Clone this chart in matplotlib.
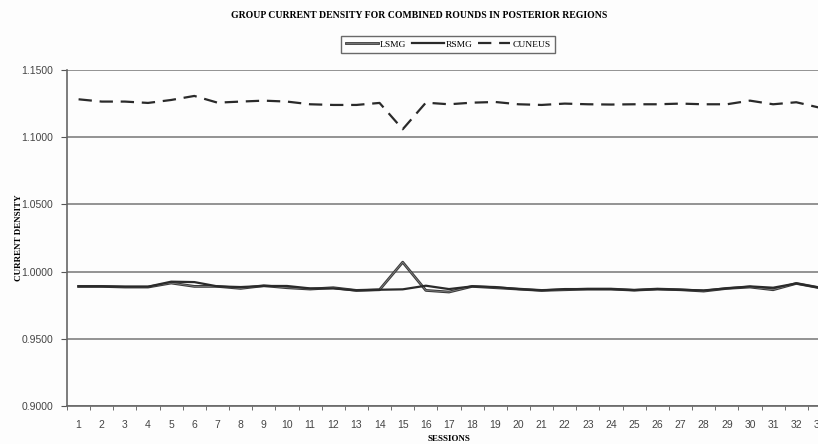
import numpy as np
import matplotlib
matplotlib.use("Agg")
import matplotlib.pyplot as plt
import matplotlib.patheffects as pe

sessions = list(range(1, 34))

lsmg = [0.9890, 0.9890, 0.9885, 0.9885, 0.9915, 0.9890, 0.9890, 0.9875, 0.9895, 0.9880,
        0.9870, 0.9880, 0.9860, 0.9865, 1.0070, 0.9860, 0.9848, 0.9890, 0.9880, 0.9870,
        0.9860, 0.9865, 0.9870, 0.9870, 0.9862, 0.9870, 0.9865, 0.9855, 0.9875, 0.9885,
        0.9865, 0.9912, 0.9880]
rsmg = [0.9890, 0.9890, 0.9888, 0.9888, 0.9925, 0.9922, 0.9890, 0.9885, 0.9893, 0.9893,
        0.9875, 0.9875, 0.9860, 0.9865, 0.9868, 0.9895, 0.9870, 0.9890, 0.9885, 0.9870,
        0.9860, 0.9870, 0.9870, 0.9870, 0.9862, 0.9870, 0.9865, 0.9860, 0.9875, 0.9890,
        0.9880, 0.9912, 0.9880]
cuneus = [1.1282, 1.1265, 1.1265, 1.1255, 1.1277, 1.1307, 1.1257, 1.1265, 1.1272, 1.1265,
          1.1245, 1.1240, 1.1240, 1.1255, 1.1059, 1.1257, 1.1245, 1.1257, 1.1262, 1.1245,
          1.1240, 1.1250, 1.1245, 1.1243, 1.1245, 1.1245, 1.1250, 1.1245, 1.1245, 1.1272,
          1.1245, 1.1260, 1.1220]

yticks = [0.90, 0.95, 1.00, 1.05, 1.10, 1.15]

fig = plt.figure(figsize=(8.18, 4.44), dpi=100)
fig.patch.set_facecolor('#fdfdfd')
ax = fig.add_axes([67/818, 38/444, 764/818, 336/444])
ax.set_facecolor('#fdfdfd')

hollow = [pe.Stroke(linewidth=2.0, foreground='#3a3a3a'), pe.Normal()]
ax.plot(sessions, lsmg, color='#8c8c8c', lw=0.5, path_effects=hollow, label='LSMG')
ax.plot(sessions, rsmg, color='#2a2a2a', lw=1.6, label='RSMG')
ax.plot(sessions, cuneus, color='#2a2a2a', lw=1.6, dashes=(6, 3.5), label='CUNEUS')

ax.set_xlim(0.5, 33.5)
ax.set_ylim(0.90, 1.15)
ax.set_yticks(yticks)
ax.set_yticklabels(['%.4f' % v for v in yticks], fontsize=7.5, family='Liberation Sans', color='#444')
ax.yaxis.grid(True, color='#8a8a8a', lw=1.3)
ax.set_axisbelow(True)

ax.set_xticks(sessions)
ax.set_xticklabels([str(s) for s in sessions], fontsize=7.5, family='Liberation Sans', color='#444')
ax.set_xticks(np.arange(0.5, 34, 1), minor=True)
ax.tick_params(axis='x', which='major', length=0, pad=10)
ax.tick_params(axis='x', which='minor', length=3, direction='out', color='#555')
ax.tick_params(axis='y', length=4, direction='out', color='#555', pad=6)

for s in ['top', 'right']:
    ax.spines[s].set_visible(False)
for s in ['left', 'bottom']:
    ax.spines[s].set_color('#666')
    ax.spines[s].set_linewidth(1.2)

ax.set_xlabel('SESSIONS', fontsize=6.5, family='Liberation Serif', fontweight='bold', labelpad=4)
ax.set_ylabel('CURRENT DENSITY', fontsize=6.5, family='Liberation Serif', fontweight='bold', labelpad=-1)

fig.text(419/818, 1 - 15/444, 'GROUP CURRENT DENSITY FOR COMBINED ROUNDS IN POSTERIOR REGIONS',
         ha='center', va='center', fontsize=7, family='Liberation Serif', fontweight='bold')

leg = fig.legend(loc='center', bbox_to_anchor=(448/818, 1 - 44.5/444), ncol=3, frameon=True,
                 fancybox=False, prop={'family': 'Liberation Serif', 'size': 6.8},
                 handlelength=3.4, handletextpad=0.2, columnspacing=0.6, borderpad=0.45)
leg.get_frame().set_edgecolor('#444')
leg.get_frame().set_linewidth(1.0)
leg.get_frame().set_facecolor('#fdfdfd')

fig.savefig('out.png', dpi=100, facecolor=fig.get_facecolor())
